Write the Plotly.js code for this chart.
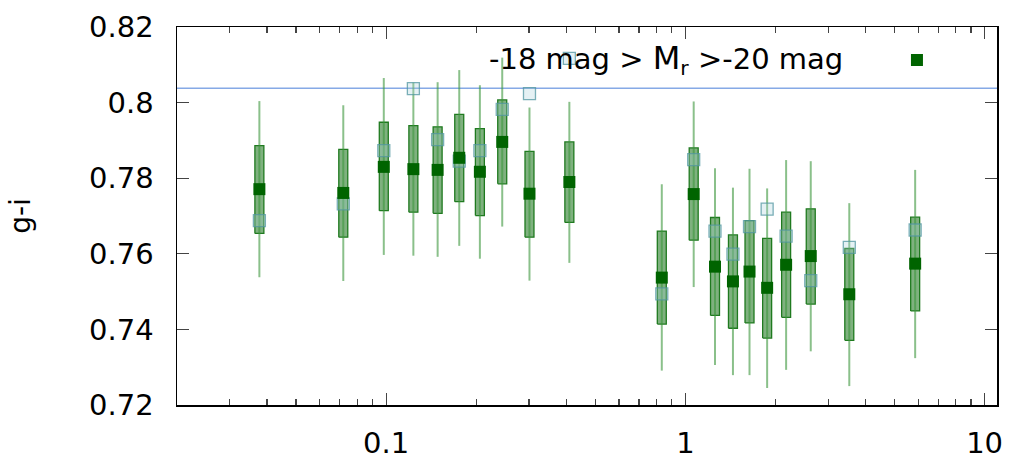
<!DOCTYPE html>
<html><head><meta charset="utf-8">
<script src="https://cdn.plot.ly/plotly-3.0.1.min.js"></script>
<style>html,body{margin:0;padding:0;background:#fff}#plot{width:1012px;height:461px}</style>
</head><body><div id="plot"></div>
<script>
// radius values (log x)
const radius = [0.0377, 0.0719, 0.0982, 0.1233, 0.1486, 0.1755, 0.2057, 0.2443, 0.3013, 0.4095, 0.834, 1.066, 1.256, 1.442, 1.638, 1.876, 2.171, 2.624, 3.53, 5.86];
// median g-i (filled squares)
const median = [0.7771, 0.7761, 0.7830, 0.7824, 0.7822, 0.7854, 0.7817, 0.7896, 0.7759, 0.7790, 0.7537, 0.7758, 0.7566, 0.7527, 0.7553, 0.7510, 0.7571, 0.7594, 0.7493, 0.7574];
// box lower / upper
const boxLow = [0.7654, 0.7644, 0.7714, 0.7710, 0.7707, 0.7738, 0.7701, 0.7785, 0.7644, 0.7683, 0.7414, 0.7636, 0.7437, 0.7403, 0.7417, 0.7377, 0.7432, 0.7467, 0.7371, 0.7449];
const boxHigh = [0.7886, 0.7876, 0.7948, 0.7939, 0.7936, 0.7969, 0.7931, 0.8007, 0.7871, 0.7896, 0.7660, 0.7880, 0.7696, 0.7650, 0.7688, 0.7641, 0.7710, 0.7719, 0.7614, 0.7697];
// whisker lower / upper
const whiskLow = [0.7538, 0.7528, 0.7597, 0.7595, 0.7592, 0.7621, 0.7587, 0.7672, 0.7529, 0.7576, 0.7291, 0.7512, 0.7306, 0.7279, 0.7279, 0.7245, 0.7293, 0.7342, 0.7250, 0.7324];
const whiskHigh = [0.8004, 0.7993, 0.8065, 0.8053, 0.8054, 0.8086, 0.8046, 0.8119, 0.7987, 0.8002, 0.7784, 0.8003, 0.7826, 0.7775, 0.7825, 0.7773, 0.7848, 0.7845, 0.7734, 0.7822];
// open squares
const openVal = [0.7688, 0.7732, 0.7873, 0.8037, 0.7902, 0.7845, 0.7873, 0.7982, 0.8024, 0.8117, 0.7494, 0.7849, 0.7660, 0.7599, 0.7672, 0.7718, 0.7647, 0.7529, 0.7617, 0.7663];
// reference line
const refLine = 0.8038;
const legendText = '-18 mag > <span style="font-size:32px">M</span><sub>r</sub> >-20 mag';
const yTitle = 'g-i';

// box half-width as a multiplicative factor on the log axis (style constant)
const boxHalf = Math.pow(10, 0.015);

const wx = [], wy = [], bx = [], by = [];
radius.forEach((x, i) => {
  wx.push(x, x, null); wy.push(whiskLow[i], whiskHigh[i], null);
  bx.push(x / boxHalf, x * boxHalf, x * boxHalf, x / boxHalf, x / boxHalf, null);
  by.push(boxLow[i], boxLow[i], boxHigh[i], boxHigh[i], boxLow[i], null);
});

const traces = [
  {x: bx, y: by, mode: 'lines', fill: 'toself', fillcolor: 'rgba(0,100,0,0.5)',
   line: {color: '#1f7a1f', width: 1.3}, showlegend: false, hoverinfo: 'skip'},
  {x: wx, y: wy, mode: 'lines', line: {color: 'rgba(60,150,60,0.6)', width: 2}, showlegend: false, hoverinfo: 'skip'},
  {x: radius, y: openVal, mode: 'markers', showlegend: false,
   marker: {symbol: 'square', size: 12, color: 'rgba(170,210,220,0.3)', line: {color: 'rgba(80,150,160,0.75)', width: 1.3}}},
  {x: radius, y: median, mode: 'markers', name: ' ', showlegend: true,
   marker: {symbol: 'square', size: 12, color: '#006400'}}
];

const font = {family: 'DejaVu Sans', size: 29, color: '#000'};
const layout = {
  width: 1012, height: 461,
  margin: {l: 177, r: 15, t: 27, b: 56},
  paper_bgcolor: '#fff', plot_bgcolor: '#fff',
  font: font,
  showlegend: true,
  legend: {x: 0.878, y: 0.973, xanchor: 'left', yanchor: 'top', bgcolor: 'rgba(0,0,0,0)', font: {family: 'DejaVu Sans', size: 25}, itemwidth: 30},
  xaxis: {type: 'log', range: [Math.log10(0.02), Math.log10(11)], dtick: 1,
    showline: true, linecolor: '#000', linewidth: 1.5, mirror: 'allticks',
    ticks: 'inside', ticklen: 12, tickwidth: 1.2, tickcolor: '#444',
    minor: {dtick: 'D1', ticks: 'inside', ticklen: 6, tickwidth: 1.2, tickcolor: '#444', showgrid: false},
    showgrid: false, zeroline: false, ticklabelstandoff: 12, tickfont: font},
  yaxis: {range: [0.72, 0.82], dtick: 0.02, showline: true, linecolor: '#000', linewidth: 1.5, mirror: 'allticks',
    ticks: 'inside', ticklen: 12, tickwidth: 1.2, tickcolor: '#444', showgrid: false, zeroline: false,
    ticklabelstandoff: 16, tickfont: font,
    title: {text: yTitle, font: {family: 'DejaVu Sans', size: 28, color: '#000'}, standoff: 50}},
  shapes: [{type: 'line', xref: 'paper', yref: 'y', x0: 0, x1: 1, y0: refLine, y1: refLine,
    line: {color: '#86a9e6', width: 1.5}, layer: 'below'}],
  annotations: [{xref: 'paper', yref: 'paper', x: 0.378, y: 0.915, xanchor: 'left', yanchor: 'middle',
    text: legendText, showarrow: false, font: {family: 'DejaVu Sans', size: 29, color: '#000'}}]
};
Plotly.newPlot('plot', traces, layout, {staticPlot: true});
</script></body></html>
